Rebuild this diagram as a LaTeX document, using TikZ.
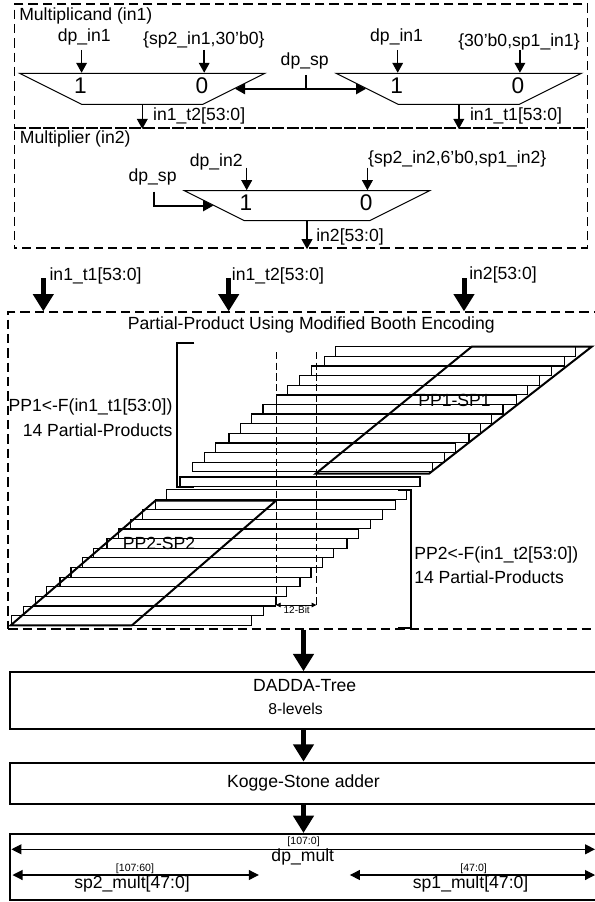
\documentclass[tikz,border=0pt]{standalone}
\usepackage{fontspec}
\setmainfont{Liberation Sans}
\usetikzlibrary{shapes.geometric,arrows.meta}
\tikzset{
  sigtext/.style={inner sep=0pt, text height=9.5pt, text depth=2.8pt, font=\fontsize{13.2}{15}\selectfont},
  lvltext/.style={inner sep=0pt, font=\fontsize{11.8}{14}\selectfont},
  rangetext/.style={inner sep=0pt, font=\fontsize{7.9}{9}\selectfont},
  digit/.style={inner sep=0pt, font=\fontsize{17}{19}\selectfont},
  muxbox/.style={draw, line width=0.75pt, trapezium, trapezium stretches body=true, shape border rotate=180,
    trapezium left angle=26.6, trapezium right angle=26.6, inner sep=0pt, text depth=0pt, minimum width=183.9pt},
  dashbox/.style={draw, line width=1.4pt, dash pattern=on 7pt off 3.75pt, inner sep=0pt},
  blockbox/.style={draw, line width=1.5pt, inner sep=0pt, minimum width=440pt},
  sigarrow/.style={line width=1.1pt, -{Triangle[length=7.5pt,width=8pt]}},
  selarrow/.style={line width=1.5pt, -{Triangle[length=7.5pt,width=8pt]}},
  selboth/.style={line width=1.5pt, {Triangle[length=7.5pt,width=8pt]}-{Triangle[length=7.5pt,width=8pt]}},
  busarrow/.style={line width=3.75pt, -{Triangle[length=13pt,width=15pt]}},
  dimarrow/.style={line width=0.8pt, {Triangle[length=7.5pt,width=7.5pt]}-{Triangle[length=7.5pt,width=7.5pt]}},
  tinyarrow/.style={line width=0.6pt, {Triangle[length=3.5pt,width=3.5pt]}-{Triangle[length=3.5pt,width=3.5pt]}},
  pprow/.style={draw, line width=0.85pt},
  ppband/.style={draw, line width=1.5pt, line join=miter},
  ppbrace/.style={draw, line width=1.5pt},
  bitline/.style={draw, line width=0.75pt, dash pattern=on 5.5pt off 2.5pt}
}

\begin{document}
\begin{tikzpicture}[x=0.75pt, y=-0.75pt]
  \useasboundingbox (0,0) rectangle (595,902);

  % input selection
  \node[dashbox, minimum width=429.8pt, minimum height=93pt] (mcandbox) at (301,66) {};
  \node[dashbox, dash phase=5pt, minimum width=429.8pt, minimum height=90.2pt] (mplierbox) at (301,188.15) {};
  \node[sigtext, anchor=west] (mcandtitle) at (19,15.7) {Multiplicand (in1)};
  \node[sigtext, anchor=west] (mpliertitle) at (19.7,139.3) {Multiplier (in2)};

  \node[muxbox, text height=23.25pt] (muxa) at (142.3,88.8) {\phantom{0}};
  \node[muxbox, text height=23.25pt] (muxb) at (458.8,88.8) {\phantom{0}};
  \node[muxbox, text height=22.5pt] (muxc) at (307,205.7) {\phantom{0}};
  \node[digit] (muxaone) at (80.5,86) {1};
  \node[digit] (muxazero) at (202,86) {0};
  \node[digit] (muxbone) at (396.6,86) {1};
  \node[digit] (muxbzero) at (518,86) {0};
  \node[digit] (muxcone) at (246,202.7) {1};
  \node[digit] (muxczero) at (366.2,202.7) {0};

  \node[sigtext] (dpinaa) at (84.3,36.7) {dp\_in1};
  \node[sigtext] (spina) at (203.8,40) {\{sp2\_in1,30'b0\}};
  \node[sigtext] (dpinab) at (396.6,37.3) {dp\_in1};
  \node[sigtext] (spinb) at (519,41.7) {\{30'b0,sp1\_in1\}};
  \node[sigtext] (dpsel) at (304.7,61) {dp\_sp};
  \node[sigtext] (dpinc) at (216.3,162.3) {dp\_in2};
  \node[sigtext] (spinc) at (457.3,159) {\{sp2\_in2,6'b0,sp1\_in2\}};
  \node[sigtext] (dpselc) at (152.6,177.3) {dp\_sp};

  \coordinate (arra) at (81.6,50);
  \coordinate (arrb) at (204.2,50);
  \coordinate (arrc) at (397.7,50);
  \coordinate (arrd) at (519.9,50);
  \coordinate (arre) at (246.7,167.7);
  \coordinate (arrf) at (367.4,167.7);
  \draw[sigarrow] (arra) -- (arra |- muxa.north);
  \draw[sigarrow] (arrb) -- (arrb |- muxa.north);
  \draw[sigarrow] (arrc) -- (arrc |- muxb.north);
  \draw[sigarrow] (arrd) -- (arrd |- muxb.north);
  \draw[sigarrow] (arre) -- (arre |- muxc.north);
  \draw[sigarrow] (arrf) -- (arrf |- muxc.north);

  \coordinate (selab) at (305.5,75);
  \coordinate (selc) at (153.7,191.7);
  \draw[selboth] (muxa.east) -- (muxb.west);
  \draw[line width=1.5pt] (selab) -- (selab |- muxa.east);
  \draw[selarrow] (selc) |- (muxc.west);

  \draw[sigarrow] (muxa.south) -- (muxa.south |- mcandbox.south);
  \draw[sigarrow] (muxb.south) -- (muxb.south |- mcandbox.south);
  \draw[sigarrow] (muxc.south) -- (muxc.south |- mplierbox.south);
  \node[sigtext, anchor=west] (outa) at (152.9,115.7) {in1\_t2[53:0]};
  \node[sigtext, anchor=west] (outb) at (469.8,115.7) {in1\_t1[53:0]};
  \node[sigtext, anchor=west] (outc) at (316,237.3) {in2[53:0]};

  % partial products
  \node[dashbox, minimum width=442.8pt, minimum height=237.75pt] (ppbox) at (303.5,470.8) {};
  \coordinate (busa) at (43.3,278.3);
  \coordinate (busb) at (228.7,278.3);
  \coordinate (busc) at (464,278.3);
  \draw[busarrow] (busa) -- (busa |- ppbox.north);
  \draw[busarrow] (busb) -- (busb |- ppbox.north);
  \draw[busarrow] (busc) -- (busc |- ppbox.north);
  \node[sigtext, anchor=west] (busatext) at (49.3,275.7) {in1\_t1[53:0]};
  \node[sigtext, anchor=west] (busbtext) at (231.7,275.7) {in1\_t2[53:0]};
  \node[sigtext, anchor=west] (busctext) at (469,275) {in2[53:0]};
  \node[sigtext] (pptitle) at (311.3,325) {Partial-Product Using Modified Booth Encoding};

  \foreach \rowx/\rowy in {335.7/346.7, 324.3/356.4, 311.3/366, 299.5/375.7, 287.7/385.3, 276.3/395,
    263/404.4, 251.7/414, 240.3/423.7, 229/433.3, 215.7/443, 204.3/452.7, 192.7/462.3, 180/477,
    166.7/489.7, 155.3/500, 142.3/509.7, 130.3/519.3, 118.3/529, 107/538.6, 93.7/548.2, 82.3/557.9,
    71/567.5, 60/577.1, 46.7/586.8, 35.3/596.4, 23.7/606.1, 11.3/615.7}
    \draw[pprow] (\rowx,\rowy) rectangle ++(240,9.6);

  \draw[ppband] (471.7,346.7) -- (591.7,346.7) -- (429,473.7) -- (315.7,473.7) -- cycle;
  \draw[ppband] (155.3,500.7) -- (276,500.7) -- (132,625.3) -- (10.7,625.3) -- cycle;
  \draw[bitline] (276,352) -- (276,607);
  \draw[bitline] (316.3,352) -- (316.3,607);
  \draw[ppbrace] (194.3,343.3) -- (176.7,343.3) -- (176.7,487) -- (194.3,487);
  \draw[ppbrace] (398.3,490) -- (411.3,490) -- (411.3,627.7) -- (398.3,627.7);

  \node[sigtext] (spaband) at (454.5,401.7) {PP1-SP1};
  \node[sigtext] (spbband) at (159,545) {PP2-SP2};
  \node[sigtext, anchor=east] (ppatext) at (172.7,406.7) {PP1<-F(in1\_t1[53:0])};
  \node[sigtext, anchor=east] (ppacount) at (172.7,431.7) {14 Partial-Products};
  \node[sigtext, anchor=west] (ppbtext) at (414,555) {PP2<-F(in1\_t2[53:0])};
  \node[sigtext, anchor=west] (ppbcount) at (414,579) {14 Partial-Products};

  \coordinate (bitl) at (276,605);
  \coordinate (bitr) at (316.3,605);
  \draw[tinyarrow] (bitl) -- (bitr);
  \node[inner sep=0pt, font=\fontsize{7.5}{9}\selectfont] (bitwidth) at (296.7,610) {12-Bit};

  % tree, adder and result
  \node[blockbox, minimum height=42.5pt] (dadda) at (303.5,700.6) {};
  \node[sigtext] (daddatext) at (304.7,686.7) {DADDA-Tree};
  \node[lvltext] (daddalvl) at (295.6,709.3) {8-levels};
  \node[blockbox, minimum height=31pt, font=\fontsize{13.2}{15}\selectfont] (kogge) at (303.5,783.3) {Kogge-Stone adder};
  \node[blockbox, minimum height=49.5pt] (result) at (303.5,867) {};
  \draw[busarrow] (ppbox.south) -- (dadda.north);
  \draw[busarrow] (dadda.south) -- (kogge.north);
  \draw[busarrow] (kogge.south) -- (result.north);

  \coordinate (dpl) at (11.4,849.3);
  \coordinate (dpr) at (595,849.3);
  \coordinate (spbl) at (12.5,875);
  \coordinate (spbr) at (258.8,875);
  \coordinate (spal) at (349.9,875);
  \coordinate (spar) at (595,875);
  \draw[dimarrow] (dpl) -- (dpr);
  \draw[dimarrow] (spbl) -- (spbr);
  \draw[dimarrow] (spal) -- (spar);
  \node[rangetext] (dprange) at (303.6,841.7) {[107:0]};
  \node[sigtext] (dpmult) at (302.8,856.7) {dp\_mult};
  \node[rangetext] (spbrange) at (135,868.3) {[107:60]};
  \node[sigtext] (spbmult) at (132,884.3) {sp2\_mult[47:0]};
  \node[rangetext] (sparange) at (473.6,868.3) {[47:0]};
  \node[sigtext] (spamult) at (470.6,884.3) {sp1\_mult[47:0]};
\end{tikzpicture}
\end{document}
